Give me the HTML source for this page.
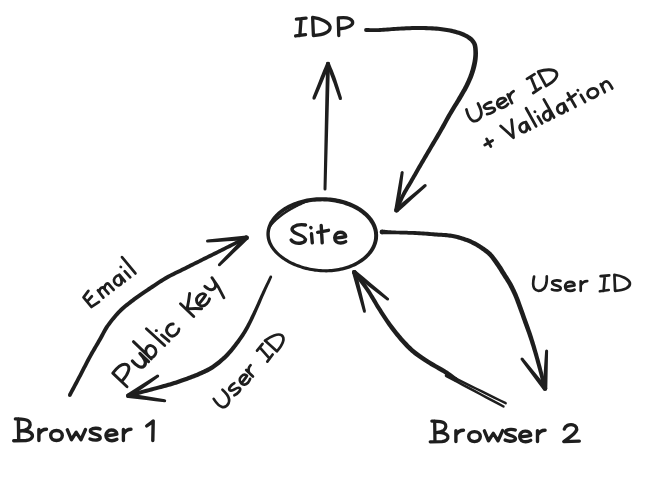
<!DOCTYPE html>
<html><head><meta charset="utf-8">
<style>
html,body{margin:0;padding:0;background:#fff;}
body{width:650px;height:501px;overflow:hidden;font-family:"Liberation Sans",sans-serif;}
svg{display:block;}
</style></head>
<body>
<svg width="650" height="501" viewBox="0 0 650 501">
<g fill="none" stroke="#1e1e1e" stroke-width="4.0" stroke-linecap="round" stroke-linejoin="round">

<g fill="#1e1e1e" stroke="none">
<path d="M365.99,31.90 L367.36,31.91 L368.68,31.93 L369.98,31.95 L371.28,31.98 L372.60,32.00 L373.96,32.02 L375.37,32.02 L376.85,32.01 L378.41,31.98 L380.08,31.93 L381.87,31.85 L383.75,31.73 L385.70,31.60 L387.72,31.44 L389.78,31.28 L391.87,31.12 L393.96,30.96 L396.04,30.81 L398.09,30.68 L400.10,30.57 L402.10,30.48 L404.09,30.39 L406.09,30.30 L408.08,30.22 L410.07,30.15 L412.06,30.09 L414.04,30.04 L416.02,30.02 L418.00,30.01 L419.98,30.02 L421.99,30.05 L424.02,30.09 L426.07,30.15 L428.12,30.23 L430.16,30.32 L432.17,30.42 L434.16,30.55 L436.09,30.70 L437.97,30.86 L439.77,31.05 L441.52,31.26 L443.23,31.49 L444.90,31.74 L446.53,32.01 L448.12,32.30 L449.66,32.61 L451.16,32.93 L452.62,33.28 L454.04,33.64 L455.42,34.02 L456.76,34.43 L458.07,34.87 L459.36,35.33 L460.60,35.80 L461.80,36.30 L462.94,36.80 L464.03,37.32 L465.05,37.83 L465.99,38.35 L466.86,38.87 L467.64,39.38 L468.35,39.88 L468.99,40.38 L469.56,40.88 L470.07,41.37 L470.53,41.88 L470.95,42.39 L471.34,42.93 L471.69,43.49 L472.02,44.06 L472.29,44.62 L472.51,45.19 L472.69,45.80 L472.85,46.44 L472.97,47.12 L473.07,47.85 L473.15,48.61 L473.21,49.41 L473.26,50.25 L473.30,51.12 L473.33,51.98 L473.34,52.86 L473.34,53.76 L473.31,54.68 L473.26,55.62 L473.18,56.57 L473.09,57.55 L472.97,58.55 L472.83,59.58 L472.66,60.62 L472.47,61.69 L472.25,62.80 L472.00,63.95 L471.73,65.11 L471.45,66.30 L471.15,67.49 L470.83,68.69 L470.49,69.89 L470.13,71.08 L469.76,72.25 L469.36,73.42 L468.95,74.58 L468.52,75.74 L468.07,76.90 L467.59,78.07 L467.10,79.24 L466.59,80.41 L466.06,81.59 L465.50,82.78 L464.93,83.98 L464.34,85.17 L463.75,86.33 L463.13,87.49 L462.49,88.66 L461.83,89.84 L461.15,91.05 L460.43,92.30 L459.68,93.59 L458.89,94.95 L458.07,96.36 L457.20,97.84 L456.28,99.38 L455.31,100.98 L454.31,102.63 L453.28,104.31 L452.24,106.02 L451.19,107.75 L450.14,109.48 L449.12,111.20 L448.12,112.90 L447.15,114.60 L446.19,116.31 L445.24,118.01 L444.30,119.72 L443.36,121.43 L442.43,123.14 L441.50,124.85 L440.56,126.55 L439.61,128.25 L438.65,129.94 L437.68,131.64 L436.70,133.34 L435.71,135.04 L434.71,136.74 L433.71,138.45 L432.71,140.15 L431.70,141.85 L430.70,143.56 L429.70,145.25 L428.71,146.95 L427.72,148.63 L426.74,150.31 L425.76,151.99 L424.78,153.66 L423.80,155.33 L422.83,157.00 L421.86,158.67 L420.88,160.34 L419.91,162.01 L418.95,163.68 L417.97,165.37 L417.00,167.07 L416.02,168.78 L415.04,170.49 L414.07,172.20 L413.10,173.89 L412.15,175.57 L411.21,177.22 L410.28,178.83 L409.38,180.41 L408.50,181.93 L407.63,183.42 L406.76,184.87 L405.91,186.31 L405.06,187.74 L404.23,189.16 L403.41,190.58 L402.61,192.01 L401.83,193.46 L401.07,194.93 L400.34,196.41 L399.66,197.89 L399.00,199.37 L398.37,200.84 L397.75,202.30 L397.15,203.76 L396.56,205.22 L395.97,206.67 L395.37,208.11 L394.75,209.55 L398.25,211.05 L398.87,209.59 L399.49,208.13 L400.09,206.68 L400.69,205.23 L401.30,203.78 L401.91,202.35 L402.53,200.92 L403.17,199.50 L403.83,198.08 L404.53,196.67 L405.26,195.28 L406.02,193.89 L406.80,192.51 L407.60,191.13 L408.43,189.74 L409.28,188.33 L410.14,186.90 L411.02,185.43 L411.91,183.93 L412.82,182.39 L413.73,180.81 L414.66,179.20 L415.61,177.55 L416.57,175.88 L417.55,174.19 L418.53,172.49 L419.51,170.79 L420.50,169.09 L421.48,167.39 L422.45,165.72 L423.43,164.06 L424.40,162.39 L425.38,160.73 L426.36,159.07 L427.35,157.41 L428.33,155.75 L429.32,154.08 L430.31,152.41 L431.30,150.73 L432.29,149.05 L433.29,147.37 L434.29,145.68 L435.30,143.99 L436.31,142.29 L437.33,140.59 L438.34,138.89 L439.35,137.18 L440.36,135.47 L441.36,133.76 L442.35,132.06 L443.32,130.35 L444.29,128.63 L445.25,126.92 L446.19,125.21 L447.14,123.51 L448.08,121.81 L449.02,120.11 L449.96,118.43 L450.92,116.76 L451.88,115.10 L452.87,113.43 L453.89,111.73 L454.93,110.03 L455.98,108.32 L457.03,106.62 L458.07,104.95 L459.10,103.30 L460.09,101.69 L461.04,100.13 L461.93,98.64 L462.77,97.23 L463.57,95.88 L464.34,94.58 L465.08,93.32 L465.79,92.10 L466.48,90.88 L467.15,89.68 L467.81,88.47 L468.45,87.26 L469.07,86.02 L469.68,84.78 L470.26,83.54 L470.83,82.32 L471.38,81.09 L471.91,79.87 L472.41,78.65 L472.90,77.43 L473.37,76.21 L473.82,74.98 L474.24,73.75 L474.65,72.50 L475.04,71.25 L475.42,69.98 L475.77,68.72 L476.10,67.45 L476.41,66.20 L476.68,64.96 L476.92,63.74 L477.15,62.55 L477.34,61.38 L477.51,60.24 L477.65,59.13 L477.76,58.03 L477.85,56.95 L477.92,55.88 L477.96,54.84 L477.98,53.82 L477.97,52.82 L477.95,51.84 L477.90,50.88 L477.84,49.97 L477.78,49.07 L477.70,48.17 L477.59,47.27 L477.46,46.38 L477.28,45.48 L477.05,44.58 L476.77,43.69 L476.41,42.80 L475.98,41.94 L475.52,41.14 L475.02,40.38 L474.47,39.65 L473.88,38.94 L473.23,38.25 L472.53,37.59 L471.77,36.95 L470.96,36.33 L470.08,35.72 L469.14,35.13 L468.13,34.55 L467.05,33.97 L465.91,33.41 L464.71,32.86 L463.45,32.33 L462.15,31.81 L460.81,31.32 L459.43,30.84 L458.02,30.40 L456.58,29.98 L455.12,29.58 L453.62,29.20 L452.08,28.85 L450.50,28.51 L448.88,28.20 L447.23,27.91 L445.54,27.64 L443.81,27.39 L442.04,27.16 L440.23,26.95 L438.36,26.76 L436.42,26.60 L434.43,26.46 L432.40,26.33 L430.34,26.23 L428.27,26.15 L426.19,26.09 L424.11,26.04 L422.05,26.00 L420.02,25.98 L418.00,25.98 L415.98,25.99 L413.96,26.03 L411.94,26.08 L409.93,26.15 L407.92,26.23 L405.91,26.32 L403.91,26.42 L401.90,26.52 L399.90,26.63 L397.85,26.75 L395.77,26.89 L393.66,27.05 L391.56,27.22 L389.47,27.39 L387.42,27.56 L385.41,27.72 L383.49,27.86 L381.65,27.98 L379.92,28.07 L378.30,28.13 L376.79,28.17 L375.35,28.18 L373.98,28.18 L372.65,28.17 L371.34,28.16 L370.04,28.14 L368.73,28.12 L367.39,28.10 L366.01,28.10Z M364.10,30.00 a1.90,1.90 0 1,0 3.80,0 a1.90,1.90 0 1,0 -3.80,0 M394.60,210.30 a1.90,1.90 0 1,0 3.80,0 a1.90,1.90 0 1,0 -3.80,0"/>
<path d="M398.77,210.64 L400.00,201.14 L401.23,191.63 L402.46,182.13 L403.68,172.62 L400.72,172.18 L399.09,181.62 L397.47,191.07 L395.85,200.51 L394.23,209.96Z M394.20,210.30 a2.30,2.30 0 1,0 4.60,0 a2.30,2.30 0 1,0 -4.60,0 M400.70,172.40 a1.50,1.50 0 1,0 3.00,0 a1.50,1.50 0 1,0 -3.00,0"/><path d="M398.00,212.04 L405.05,205.69 L412.09,199.34 L419.14,192.99 L426.18,186.63 L424.22,184.37 L416.91,190.41 L409.61,196.46 L402.30,202.51 L395.00,208.56Z M394.20,210.30 a2.30,2.30 0 1,0 4.60,0 a2.30,2.30 0 1,0 -4.60,0 M423.70,185.50 a1.50,1.50 0 1,0 3.00,0 a1.50,1.50 0 1,0 -3.00,0"/>
<path d="M326.50,189.04 L326.85,176.54 L327.20,164.04 L327.55,151.54 L327.90,139.04 L328.25,126.54 L328.60,114.04 L328.94,101.54 L329.27,89.04 L329.61,76.55 L329.95,64.05 L326.05,63.95 L325.79,76.45 L325.53,88.96 L325.26,101.46 L325.00,113.96 L324.75,126.46 L324.50,138.96 L324.25,151.46 L324.00,163.96 L323.75,176.46 L323.50,188.96Z M323.50,189.00 a1.50,1.50 0 1,0 3.00,0 a1.50,1.50 0 1,0 -3.00,0 M326.05,64.00 a1.95,1.95 0 1,0 3.90,0 a1.95,1.95 0 1,0 -3.90,0"/>
<path d="M326.33,62.83 L325.62,64.52 L324.91,66.20 L324.21,67.88 L323.51,69.56 L322.80,71.24 L322.10,72.92 L321.43,74.63 L320.77,76.34 L320.11,78.06 L319.44,79.78 L318.76,81.52 L318.07,83.27 L317.38,85.02 L316.68,86.78 L315.98,88.54 L315.28,90.31 L314.58,92.07 L313.87,93.84 L313.17,95.61 L312.47,97.37 L315.53,98.63 L316.27,96.89 L317.02,95.14 L317.77,93.39 L318.52,91.64 L319.27,89.90 L320.02,88.15 L320.76,86.41 L321.50,84.67 L322.24,82.94 L322.96,81.22 L323.68,79.50 L324.40,77.80 L325.11,76.10 L325.80,74.40 L326.45,72.70 L327.09,70.99 L327.74,69.29 L328.38,67.58 L329.02,65.88 L329.67,64.17Z M326.20,63.50 a1.80,1.80 0 1,0 3.60,0 a1.80,1.80 0 1,0 -3.60,0 M312.35,98.00 a1.65,1.65 0 1,0 3.30,0 a1.65,1.65 0 1,0 -3.30,0"/>
<path d="M326.32,64.15 L326.94,65.86 L327.57,67.56 L328.20,69.26 L328.83,70.96 L329.46,72.66 L330.08,74.35 L330.74,76.04 L331.41,77.73 L332.06,79.42 L332.71,81.14 L333.34,82.87 L333.96,84.62 L334.58,86.38 L335.19,88.16 L335.80,89.94 L336.40,91.73 L337.01,93.53 L337.61,95.33 L338.22,97.12 L338.83,98.91 L341.97,97.89 L341.41,96.09 L340.85,94.28 L340.29,92.47 L339.74,90.66 L339.18,88.85 L338.62,87.03 L338.05,85.23 L337.47,83.43 L336.89,81.64 L336.29,79.86 L335.69,78.10 L335.07,76.36 L334.44,74.63 L333.81,72.92 L333.12,71.23 L332.43,69.55 L331.74,67.88 L331.05,66.21 L330.36,64.53 L329.68,62.85Z M326.20,63.50 a1.80,1.80 0 1,0 3.60,0 a1.80,1.80 0 1,0 -3.60,0 M338.75,98.40 a1.65,1.65 0 1,0 3.30,0 a1.65,1.65 0 1,0 -3.30,0"/>
<path d="M381.93,234.40 L383.20,234.36 L384.42,234.33 L385.61,234.30 L386.80,234.27 L388.00,234.24 L389.24,234.20 L390.53,234.17 L391.90,234.13 L393.36,234.16 L394.95,234.21 L396.67,234.27 L398.51,234.32 L400.44,234.38 L402.45,234.43 L404.52,234.49 L406.61,234.56 L408.72,234.63 L410.82,234.71 L412.89,234.80 L414.91,234.90 L416.91,235.02 L418.96,235.15 L421.03,235.29 L423.10,235.44 L425.17,235.60 L427.21,235.77 L429.22,235.93 L431.17,236.09 L433.05,236.24 L434.86,236.38 L436.58,236.51 L438.24,236.63 L439.84,236.73 L441.38,236.83 L442.87,236.93 L444.30,237.04 L445.70,237.16 L447.06,237.29 L448.39,237.45 L449.70,237.64 L450.99,237.84 L452.22,238.06 L453.41,238.29 L454.57,238.54 L455.71,238.80 L456.83,239.08 L457.94,239.38 L459.07,239.71 L460.20,240.05 L461.36,240.42 L462.54,240.81 L463.74,241.22 L464.94,241.66 L466.15,242.12 L467.35,242.60 L468.54,243.09 L469.71,243.60 L470.85,244.11 L471.96,244.63 L473.02,245.16 L474.04,245.69 L475.03,246.24 L476.01,246.82 L476.96,247.40 L477.90,248.00 L478.82,248.60 L479.72,249.21 L480.59,249.82 L481.45,250.43 L482.29,251.04 L483.10,251.62 L483.86,252.18 L484.58,252.71 L485.26,253.23 L485.92,253.75 L486.55,254.28 L487.18,254.84 L487.81,255.43 L488.44,256.07 L489.10,256.76 L489.77,257.53 L490.46,258.36 L491.16,259.25 L491.87,260.19 L492.58,261.16 L493.29,262.16 L494.00,263.17 L494.69,264.18 L495.38,265.18 L496.04,266.15 L496.67,267.08 L497.27,268.01 L497.86,268.94 L498.45,269.87 L499.04,270.81 L499.62,271.75 L500.20,272.69 L500.79,273.64 L501.38,274.60 L501.98,275.57 L502.60,276.53 L503.21,277.48 L503.83,278.42 L504.44,279.34 L505.04,280.27 L505.64,281.20 L506.23,282.13 L506.81,283.08 L507.38,284.05 L507.94,285.04 L508.50,286.07 L509.06,287.13 L509.63,288.21 L510.18,289.32 L510.74,290.44 L511.28,291.57 L511.82,292.70 L512.35,293.84 L512.86,294.99 L513.36,296.12 L513.84,297.24 L514.30,298.36 L514.75,299.48 L515.18,300.60 L515.61,301.74 L516.04,302.89 L516.48,304.07 L516.92,305.28 L517.37,306.52 L517.84,307.79 L518.32,309.10 L518.81,310.44 L519.31,311.81 L519.81,313.21 L520.32,314.62 L520.83,316.05 L521.34,317.49 L521.85,318.92 L522.36,320.35 L522.87,321.76 L523.37,323.16 L523.88,324.54 L524.38,325.91 L524.89,327.28 L525.39,328.64 L525.90,330.01 L526.40,331.40 L526.91,332.80 L527.41,334.23 L527.91,335.70 L528.42,337.19 L528.92,338.71 L529.43,340.25 L529.94,341.81 L530.44,343.39 L530.95,344.99 L531.46,346.61 L531.96,348.25 L532.47,349.91 L532.98,351.59 L533.48,353.30 L533.99,355.02 L534.50,356.77 L535.01,358.54 L535.51,360.33 L536.02,362.14 L536.53,363.96 L537.04,365.80 L537.55,367.65 L538.06,369.52 L538.57,371.40 L539.08,373.30 L539.59,375.23 L540.10,377.18 L540.61,379.14 L541.12,381.11 L541.63,383.08 L542.14,385.05 L542.65,387.02 L543.16,388.97 L546.84,388.03 L546.35,386.07 L545.86,384.10 L545.37,382.13 L544.88,380.15 L544.39,378.17 L543.90,376.21 L543.41,374.25 L542.92,372.30 L542.43,370.38 L541.94,368.48 L541.45,366.61 L540.96,364.74 L540.47,362.89 L539.98,361.05 L539.49,359.23 L538.99,357.43 L538.50,355.64 L538.01,353.87 L537.52,352.13 L537.02,350.41 L536.53,348.71 L536.04,347.03 L535.54,345.37 L535.05,343.73 L534.56,342.11 L534.06,340.51 L533.57,338.93 L533.08,337.37 L532.58,335.83 L532.09,334.30 L531.59,332.81 L531.09,331.34 L530.60,329.91 L530.10,328.50 L529.61,327.11 L529.11,325.73 L528.62,324.36 L528.12,323.00 L527.63,321.62 L527.13,320.24 L526.63,318.83 L526.13,317.41 L525.63,315.97 L525.12,314.53 L524.62,313.10 L524.12,311.68 L523.62,310.27 L523.12,308.88 L522.64,307.53 L522.16,306.21 L521.70,304.94 L521.25,303.70 L520.81,302.49 L520.38,301.30 L519.95,300.12 L519.51,298.96 L519.07,297.79 L518.61,296.63 L518.13,295.46 L517.64,294.28 L517.12,293.10 L516.60,291.92 L516.06,290.74 L515.51,289.56 L514.95,288.39 L514.38,287.23 L513.81,286.08 L513.23,284.96 L512.65,283.85 L512.06,282.76 L511.46,281.69 L510.86,280.66 L510.25,279.65 L509.64,278.67 L509.02,277.70 L508.41,276.76 L507.80,275.82 L507.20,274.89 L506.61,273.97 L506.02,273.03 L505.43,272.09 L504.85,271.15 L504.28,270.20 L503.70,269.25 L503.11,268.29 L502.52,267.33 L501.91,266.36 L501.28,265.40 L500.63,264.42 L499.96,263.45 L499.28,262.48 L498.58,261.48 L497.86,260.46 L497.12,259.43 L496.37,258.40 L495.61,257.38 L494.83,256.38 L494.06,255.42 L493.28,254.50 L492.50,253.64 L491.74,252.84 L490.99,252.11 L490.25,251.43 L489.52,250.80 L488.78,250.20 L488.04,249.62 L487.29,249.06 L486.53,248.51 L485.74,247.95 L484.91,247.36 L484.05,246.76 L483.15,246.14 L482.23,245.51 L481.28,244.88 L480.30,244.25 L479.29,243.63 L478.26,243.01 L477.19,242.40 L476.10,241.81 L474.98,241.24 L473.84,240.69 L472.65,240.15 L471.44,239.62 L470.20,239.10 L468.95,238.60 L467.68,238.11 L466.41,237.65 L465.14,237.20 L463.88,236.78 L462.64,236.38 L461.43,236.01 L460.23,235.67 L459.04,235.34 L457.86,235.03 L456.67,234.75 L455.46,234.48 L454.23,234.23 L452.96,233.99 L451.66,233.77 L450.30,233.56 L448.90,233.38 L447.48,233.23 L446.06,233.10 L444.61,232.99 L443.13,232.89 L441.63,232.80 L440.08,232.72 L438.49,232.63 L436.85,232.53 L435.14,232.42 L433.35,232.29 L431.47,232.15 L429.52,232.01 L427.51,231.87 L425.46,231.72 L423.38,231.58 L421.29,231.44 L419.20,231.32 L417.13,231.20 L415.09,231.10 L413.05,231.02 L410.96,230.94 L408.84,230.88 L406.72,230.83 L404.61,230.78 L402.54,230.74 L400.53,230.70 L398.60,230.67 L396.76,230.63 L395.05,230.59 L393.47,230.55 L392.01,230.48 L390.64,230.36 L389.36,230.25 L388.13,230.14 L386.93,230.03 L385.75,229.93 L384.56,229.82 L383.34,229.71 L382.07,229.60Z M379.60,232.00 a2.40,2.40 0 1,0 4.80,0 a2.40,2.40 0 1,0 -4.80,0 M543.10,388.50 a1.90,1.90 0 1,0 3.80,0 a1.90,1.90 0 1,0 -3.80,0"/>
<path d="M546.81,387.09 L540.91,379.83 L535.00,372.58 L529.09,365.33 L523.18,358.08 L520.82,359.92 L526.41,367.42 L532.00,374.92 L537.59,382.42 L543.19,389.91Z M542.70,388.50 a2.30,2.30 0 1,0 4.60,0 a2.30,2.30 0 1,0 -4.60,0 M520.50,359.00 a1.50,1.50 0 1,0 3.00,0 a1.50,1.50 0 1,0 -3.00,0"/><path d="M547.30,388.60 L547.50,379.21 L547.70,369.83 L547.90,360.45 L548.10,351.06 L545.10,350.94 L544.50,360.30 L543.90,369.67 L543.30,379.04 L542.70,388.40Z M542.70,388.50 a2.30,2.30 0 1,0 4.60,0 a2.30,2.30 0 1,0 -4.60,0 M545.10,351.00 a1.50,1.50 0 1,0 3.00,0 a1.50,1.50 0 1,0 -3.00,0"/>
<path d="M457.29,377.82 L456.28,377.09 L455.33,376.38 L454.39,375.67 L453.46,374.96 L452.50,374.24 L451.50,373.50 L450.43,372.74 L449.29,371.94 L448.05,371.11 L446.69,370.22 L445.18,369.29 L443.54,368.31 L441.80,367.30 L440.00,366.27 L438.15,365.22 L436.29,364.16 L434.44,363.09 L432.64,362.04 L430.92,361.01 L429.30,359.99 L427.75,358.99 L426.21,358.00 L424.72,357.02 L423.25,356.04 L421.83,355.07 L420.43,354.09 L419.07,353.10 L417.74,352.10 L416.44,351.09 L415.16,350.05 L413.93,348.99 L412.74,347.93 L411.59,346.85 L410.47,345.77 L409.36,344.66 L408.27,343.53 L407.17,342.37 L406.06,341.18 L404.94,339.96 L403.80,338.69 L402.64,337.40 L401.49,336.08 L400.34,334.74 L399.19,333.36 L398.03,331.96 L396.88,330.53 L395.73,329.07 L394.58,327.58 L393.42,326.06 L392.27,324.51 L391.11,322.93 L389.96,321.30 L388.80,319.63 L387.64,317.93 L386.48,316.20 L385.32,314.44 L384.16,312.66 L382.99,310.88 L381.83,309.08 L380.67,307.28 L379.53,305.47 L378.40,303.64 L377.27,301.77 L376.14,299.87 L375.01,297.96 L373.86,296.04 L372.69,294.13 L371.51,292.22 L370.30,290.34 L369.05,288.48 L367.78,286.66 L366.48,284.87 L365.16,283.10 L363.83,281.35 L362.49,279.62 L361.15,277.90 L359.80,276.19 L358.46,274.48 L357.13,272.77 L355.81,271.05 L352.79,273.35 L354.10,275.09 L355.43,276.83 L356.76,278.56 L358.09,280.28 L359.41,282.00 L360.72,283.73 L362.01,285.45 L363.28,287.19 L364.53,288.95 L365.75,290.72 L366.93,292.52 L368.09,294.36 L369.23,296.23 L370.36,298.13 L371.48,300.04 L372.60,301.96 L373.72,303.87 L374.84,305.78 L375.98,307.67 L377.13,309.52 L378.28,311.34 L379.44,313.16 L380.59,314.97 L381.75,316.77 L382.91,318.55 L384.07,320.32 L385.23,322.06 L386.40,323.77 L387.56,325.45 L388.73,327.09 L389.90,328.69 L391.06,330.25 L392.23,331.78 L393.40,333.29 L394.57,334.76 L395.73,336.21 L396.90,337.62 L398.07,339.01 L399.24,340.38 L400.40,341.71 L401.56,343.00 L402.69,344.27 L403.82,345.50 L404.94,346.70 L406.09,347.88 L407.25,349.04 L408.44,350.18 L409.66,351.31 L410.92,352.44 L412.24,353.55 L413.59,354.65 L414.97,355.73 L416.37,356.77 L417.80,357.80 L419.25,358.81 L420.72,359.81 L422.23,360.80 L423.75,361.79 L425.31,362.79 L426.90,363.81 L428.58,364.85 L430.35,365.91 L432.19,366.98 L434.07,368.05 L435.94,369.11 L437.79,370.15 L439.58,371.17 L441.29,372.15 L442.87,373.09 L444.31,373.98 L445.61,374.81 L446.79,375.60 L447.88,376.36 L448.90,377.08 L449.86,377.79 L450.81,378.50 L451.74,379.20 L452.69,379.91 L453.68,380.64 L454.71,381.38Z M453.80,379.60 a2.20,2.20 0 1,0 4.40,0 a2.20,2.20 0 1,0 -4.40,0 M352.40,272.20 a1.90,1.90 0 1,0 3.80,0 a1.90,1.90 0 1,0 -3.80,0"/>
<path d="M445.43,374.97 L451.40,377.90 L457.37,380.83 L463.35,383.76 L469.32,386.69 L475.30,389.62 L481.27,392.55 L487.25,395.48 L493.22,398.41 L499.20,401.35 L505.17,404.28 L506.23,402.12 L500.26,399.17 L494.30,396.23 L488.33,393.28 L482.37,390.33 L476.40,387.38 L470.44,384.43 L464.47,381.48 L458.51,378.53 L452.54,375.58 L446.57,372.63Z M444.70,373.80 a1.30,1.30 0 1,0 2.60,0 a1.30,1.30 0 1,0 -2.60,0 M504.50,403.20 a1.20,1.20 0 1,0 2.40,0 a1.20,1.20 0 1,0 -2.40,0"/>
<path d="M445.39,376.95 L451.14,380.01 L456.90,383.07 L462.65,386.13 L468.41,389.19 L474.16,392.25 L479.92,395.31 L485.67,398.38 L491.43,401.44 L497.18,404.50 L502.93,407.56 L504.07,405.44 L498.32,402.36 L492.57,399.28 L486.83,396.20 L481.08,393.13 L475.34,390.05 L469.59,386.97 L463.85,383.89 L458.10,380.81 L452.36,377.73 L446.61,374.65Z M444.70,375.80 a1.30,1.30 0 1,0 2.60,0 a1.30,1.30 0 1,0 -2.60,0 M502.30,406.50 a1.20,1.20 0 1,0 2.40,0 a1.20,1.20 0 1,0 -2.40,0"/>
<path d="M352.07,272.78 L354.82,282.51 L357.56,292.23 L360.31,301.95 L363.05,311.68 L365.95,310.92 L363.59,301.10 L361.24,291.27 L358.88,281.44 L356.53,271.62Z M352.00,272.20 a2.30,2.30 0 1,0 4.60,0 a2.30,2.30 0 1,0 -4.60,0 M363.00,311.30 a1.50,1.50 0 1,0 3.00,0 a1.50,1.50 0 1,0 -3.00,0"/><path d="M352.85,273.99 L361.31,280.56 L369.76,287.13 L378.21,293.70 L386.66,300.27 L388.54,297.93 L380.34,291.05 L372.14,284.17 L363.94,277.29 L355.75,270.41Z M352.00,272.20 a2.30,2.30 0 1,0 4.60,0 a2.30,2.30 0 1,0 -4.60,0 M386.10,299.10 a1.50,1.50 0 1,0 3.00,0 a1.50,1.50 0 1,0 -3.00,0"/>
<path d="M71.48,395.89 L72.50,393.97 L73.52,392.05 L74.55,390.14 L75.57,388.22 L76.60,386.30 L77.62,384.38 L78.64,382.46 L79.66,380.54 L80.68,378.61 L81.70,376.69 L82.71,374.75 L83.73,372.80 L84.74,370.84 L85.75,368.87 L86.75,366.92 L87.75,364.98 L88.75,363.06 L89.74,361.18 L90.72,359.33 L91.70,357.53 L92.67,355.77 L93.65,354.04 L94.63,352.33 L95.61,350.65 L96.58,348.99 L97.55,347.35 L98.51,345.73 L99.45,344.13 L100.38,342.54 L101.29,340.97 L102.17,339.41 L103.00,337.89 L103.80,336.41 L104.56,334.96 L105.32,333.54 L106.09,332.15 L106.87,330.76 L107.70,329.39 L108.57,328.01 L109.51,326.62 L110.53,325.20 L111.60,323.75 L112.71,322.30 L113.86,320.84 L115.04,319.40 L116.25,317.96 L117.48,316.54 L118.74,315.16 L120.01,313.81 L121.30,312.50 L122.60,311.24 L123.95,310.01 L125.33,308.80 L126.74,307.61 L128.18,306.44 L129.63,305.28 L131.10,304.14 L132.57,303.01 L134.04,301.90 L135.50,300.79 L136.93,299.72 L138.34,298.69 L139.74,297.69 L141.15,296.70 L142.56,295.72 L143.99,294.74 L145.46,293.76 L146.95,292.75 L148.50,291.72 L150.10,290.65 L151.77,289.54 L153.49,288.38 L155.26,287.20 L157.07,286.00 L158.89,284.80 L160.72,283.60 L162.55,282.43 L164.36,281.30 L166.14,280.22 L167.88,279.20 L169.57,278.24 L171.25,277.34 L172.93,276.47 L174.59,275.63 L176.26,274.81 L177.92,274.01 L179.59,273.21 L181.27,272.40 L182.96,271.58 L184.66,270.73 L186.36,269.88 L188.06,269.03 L189.76,268.17 L191.46,267.32 L193.16,266.46 L194.86,265.61 L196.56,264.76 L198.26,263.91 L199.96,263.06 L201.65,262.21 L203.34,261.37 L205.04,260.52 L206.72,259.68 L208.41,258.84 L210.10,258.00 L211.79,257.16 L213.48,256.32 L215.17,255.48 L216.85,254.64 L218.55,253.79 L220.26,252.93 L222.01,252.05 L223.77,251.16 L225.55,250.26 L227.31,249.37 L229.04,248.49 L230.74,247.63 L232.38,246.81 L233.95,246.02 L235.43,245.27 L236.82,244.57 L238.13,243.92 L239.36,243.31 L240.55,242.72 L241.69,242.15 L242.80,241.60 L243.91,241.05 L245.02,240.50 L246.15,239.94 L247.32,239.36 L245.68,236.04 L244.51,236.62 L243.38,237.18 L242.27,237.73 L241.16,238.27 L240.04,238.82 L238.89,239.39 L237.71,239.97 L236.47,240.59 L235.16,241.24 L233.77,241.93 L232.27,242.68 L230.70,243.46 L229.06,244.29 L227.36,245.14 L225.62,246.02 L223.85,246.90 L222.08,247.79 L220.31,248.68 L218.57,249.56 L216.85,250.41 L215.17,251.25 L213.48,252.09 L211.79,252.93 L210.10,253.76 L208.41,254.60 L206.72,255.43 L205.03,256.27 L203.34,257.11 L201.64,257.95 L199.95,258.79 L198.25,259.63 L196.55,260.48 L194.85,261.33 L193.14,262.17 L191.44,263.02 L189.74,263.87 L188.03,264.72 L186.33,265.57 L184.63,266.42 L182.94,267.27 L181.26,268.10 L179.59,268.90 L177.91,269.70 L176.24,270.50 L174.56,271.31 L172.86,272.14 L171.15,272.99 L169.43,273.88 L167.69,274.81 L165.92,275.80 L164.13,276.85 L162.30,277.96 L160.45,279.11 L158.59,280.29 L156.73,281.49 L154.89,282.70 L153.07,283.90 L151.29,285.09 L149.56,286.24 L147.90,287.35 L146.30,288.41 L144.75,289.44 L143.24,290.45 L141.76,291.44 L140.30,292.43 L138.86,293.42 L137.43,294.43 L136.00,295.45 L134.55,296.51 L133.10,297.61 L131.63,298.72 L130.15,299.85 L128.67,300.99 L127.17,302.15 L125.68,303.34 L124.20,304.55 L122.74,305.79 L121.30,307.06 L119.88,308.36 L118.50,309.70 L117.16,311.07 L115.83,312.48 L114.53,313.92 L113.25,315.39 L112.00,316.88 L110.78,318.38 L109.60,319.89 L108.45,321.39 L107.35,322.89 L106.29,324.38 L105.28,325.86 L104.35,327.33 L103.48,328.79 L102.66,330.24 L101.88,331.68 L101.11,333.13 L100.34,334.57 L99.56,336.04 L98.76,337.52 L97.91,339.03 L97.01,340.58 L96.09,342.16 L95.15,343.76 L94.20,345.38 L93.23,347.02 L92.25,348.69 L91.27,350.39 L90.28,352.12 L89.29,353.88 L88.30,355.67 L87.31,357.50 L86.32,359.37 L85.32,361.28 L84.32,363.21 L83.32,365.16 L82.32,367.12 L81.32,369.08 L80.31,371.04 L79.31,372.98 L78.30,374.91 L77.29,376.83 L76.28,378.74 L75.27,380.66 L74.25,382.58 L73.23,384.50 L72.21,386.42 L71.18,388.34 L70.16,390.27 L69.14,392.19 L68.12,394.11Z M67.90,395.00 a1.90,1.90 0 1,0 3.80,0 a1.90,1.90 0 1,0 -3.80,0 M244.65,237.70 a1.85,1.85 0 1,0 3.70,0 a1.85,1.85 0 1,0 -3.70,0"/>
<path d="M246.30,235.41 L236.57,236.46 L226.83,237.51 L217.10,238.56 L207.37,239.61 L207.63,242.59 L217.40,241.94 L227.17,241.29 L236.93,240.64 L246.70,239.99Z M244.20,237.70 a2.30,2.30 0 1,0 4.60,0 a2.30,2.30 0 1,0 -4.60,0 M206.00,241.10 a1.50,1.50 0 1,0 3.00,0 a1.50,1.50 0 1,0 -3.00,0"/><path d="M244.87,236.07 L238.24,242.99 L231.61,249.91 L224.97,256.82 L218.34,263.74 L220.46,265.86 L227.38,259.23 L234.29,252.59 L241.21,245.96 L248.13,239.33Z M244.20,237.70 a2.30,2.30 0 1,0 4.60,0 a2.30,2.30 0 1,0 -4.60,0 M217.90,264.80 a1.50,1.50 0 1,0 3.00,0 a1.50,1.50 0 1,0 -3.00,0"/>
<path d="M269.54,276.40 L268.82,277.87 L268.12,279.31 L267.42,280.72 L266.73,282.14 L266.03,283.56 L265.32,285.02 L264.60,286.51 L263.85,288.05 L263.09,289.66 L262.29,291.36 L261.46,293.15 L260.59,295.05 L259.71,297.01 L258.81,299.03 L257.89,301.08 L256.97,303.14 L256.04,305.19 L255.12,307.21 L254.21,309.17 L253.32,311.06 L252.43,312.91 L251.54,314.75 L250.66,316.58 L249.78,318.38 L248.90,320.15 L248.02,321.89 L247.15,323.59 L246.28,325.24 L245.42,326.83 L244.55,328.36 L243.69,329.82 L242.84,331.22 L242.01,332.55 L241.17,333.83 L240.33,335.08 L239.48,336.31 L238.60,337.54 L237.71,338.77 L236.78,340.02 L235.81,341.31 L234.80,342.62 L233.78,343.95 L232.74,345.29 L231.67,346.62 L230.59,347.95 L229.49,349.26 L228.38,350.55 L227.24,351.81 L226.09,353.03 L224.92,354.22 L223.71,355.39 L222.46,356.56 L221.18,357.71 L219.88,358.84 L218.56,359.95 L217.24,361.02 L215.90,362.06 L214.58,363.05 L213.26,363.99 L211.97,364.88 L210.71,365.71 L209.48,366.47 L208.25,367.18 L207.03,367.86 L205.79,368.50 L204.53,369.12 L203.24,369.73 L201.92,370.35 L200.54,370.97 L199.12,371.61 L197.65,372.26 L196.12,372.91 L194.54,373.56 L192.92,374.20 L191.28,374.83 L189.64,375.45 L188.00,376.06 L186.38,376.66 L184.80,377.24 L183.28,377.79 L181.82,378.31 L180.41,378.81 L179.04,379.29 L177.70,379.75 L176.37,380.19 L175.04,380.63 L173.69,381.06 L172.30,381.49 L170.88,381.93 L169.40,382.38 L167.90,382.82 L166.43,383.25 L164.95,383.67 L163.45,384.09 L161.91,384.51 L160.31,384.95 L158.63,385.40 L156.87,385.88 L154.98,386.40 L152.97,386.96 L150.81,387.56 L148.51,388.20 L146.09,388.87 L143.57,389.57 L140.98,390.29 L138.35,391.02 L135.70,391.75 L133.07,392.48 L130.46,393.21 L127.92,393.91 L128.88,397.49 L131.44,396.81 L134.05,396.12 L136.70,395.42 L139.35,394.72 L141.99,394.02 L144.59,393.34 L147.12,392.67 L149.55,392.03 L151.86,391.42 L154.03,390.84 L156.04,390.32 L157.92,389.83 L159.69,389.37 L161.37,388.93 L162.98,388.51 L164.54,388.11 L166.06,387.70 L167.57,387.29 L169.08,386.86 L170.60,386.42 L172.10,385.97 L173.55,385.53 L174.96,385.10 L176.33,384.66 L177.69,384.22 L179.05,383.77 L180.42,383.31 L181.81,382.84 L183.24,382.34 L184.72,381.81 L186.26,381.26 L187.85,380.69 L189.48,380.09 L191.14,379.48 L192.82,378.86 L194.49,378.22 L196.15,377.57 L197.77,376.91 L199.36,376.25 L200.88,375.59 L202.33,374.94 L203.72,374.31 L205.09,373.69 L206.43,373.05 L207.76,372.40 L209.08,371.72 L210.40,371.00 L211.73,370.24 L213.07,369.41 L214.43,368.52 L215.80,367.56 L217.17,366.54 L218.55,365.48 L219.94,364.38 L221.31,363.24 L222.67,362.07 L224.02,360.87 L225.34,359.66 L226.63,358.42 L227.88,357.18 L229.11,355.90 L230.31,354.59 L231.49,353.26 L232.63,351.90 L233.76,350.53 L234.85,349.15 L235.93,347.77 L236.97,346.40 L238.00,345.04 L238.99,343.69 L239.96,342.38 L240.90,341.09 L241.81,339.81 L242.69,338.54 L243.56,337.26 L244.42,335.95 L245.27,334.61 L246.12,333.21 L246.98,331.76 L247.85,330.24 L248.73,328.64 L249.61,326.99 L250.48,325.29 L251.34,323.55 L252.20,321.77 L253.06,319.96 L253.91,318.13 L254.77,316.28 L255.63,314.41 L256.48,312.54 L257.36,310.61 L258.24,308.61 L259.13,306.56 L260.02,304.49 L260.91,302.40 L261.79,300.34 L262.65,298.30 L263.50,296.33 L264.32,294.44 L265.11,292.64 L265.87,290.95 L266.60,289.34 L267.31,287.79 L268.01,286.29 L268.68,284.84 L269.36,283.40 L270.03,281.97 L270.70,280.54 L271.37,279.09 L272.06,277.60Z M269.40,277.00 a1.40,1.40 0 1,0 2.80,0 a1.40,1.40 0 1,0 -2.80,0 M126.55,395.70 a1.85,1.85 0 1,0 3.70,0 a1.85,1.85 0 1,0 -3.70,0"/>
<path d="M129.68,397.61 L136.89,392.55 L144.11,387.48 L151.32,382.41 L158.53,377.35 L156.87,374.85 L149.43,379.59 L141.99,384.32 L134.56,389.05 L127.12,393.79Z M126.10,395.70 a2.30,2.30 0 1,0 4.60,0 a2.30,2.30 0 1,0 -4.60,0 M156.20,376.10 a1.50,1.50 0 1,0 3.00,0 a1.50,1.50 0 1,0 -3.00,0"/><path d="M128.09,397.98 L137.19,399.03 L146.29,400.08 L155.39,401.13 L164.50,402.19 L164.90,399.21 L155.86,397.77 L146.81,396.32 L137.76,394.87 L128.71,393.42Z M126.10,395.70 a2.30,2.30 0 1,0 4.60,0 a2.30,2.30 0 1,0 -4.60,0 M163.20,400.70 a1.50,1.50 0 1,0 3.00,0 a1.50,1.50 0 1,0 -3.00,0"/>
</g>
<g fill="#1e1e1e" stroke="none"><path d="M374.17,235.22 L374.11,236.49 L374.06,237.71 L373.96,238.85 L373.77,240.00 L373.52,241.16 L373.21,242.32 L372.83,243.48 L372.40,244.63 L371.90,245.77 L371.34,246.91 L370.72,248.04 L370.04,249.15 L369.30,250.25 L368.50,251.33 L367.65,252.40 L366.73,253.45 L365.76,254.47 L364.73,255.48 L363.65,256.46 L362.52,257.41 L361.33,258.34 L360.10,259.23 L358.81,260.10 L357.48,260.93 L356.11,261.73 L354.69,262.49 L353.23,263.22 L351.74,263.90 L350.20,264.55 L348.64,265.16 L347.04,265.73 L345.41,266.26 L343.75,266.74 L342.07,267.18 L340.36,267.58 L338.64,267.94 L336.89,268.25 L335.13,268.51 L333.36,268.73 L331.57,268.91 L329.77,269.04 L327.97,269.13 L326.16,269.17 L324.35,269.17 L322.54,269.13 L320.74,269.04 L318.93,268.91 L317.13,268.74 L315.34,268.52 L313.56,268.27 L311.79,267.98 L310.03,267.64 L308.29,267.27 L306.57,266.86 L304.87,266.42 L303.19,265.94 L301.53,265.42 L299.90,264.87 L298.29,264.29 L296.71,263.67 L295.16,263.03 L293.64,262.35 L292.16,261.65 L290.71,260.91 L289.30,260.15 L287.92,259.37 L286.59,258.56 L285.30,257.72 L284.05,256.86 L282.84,255.98 L281.68,255.08 L280.56,254.16 L279.50,253.22 L278.48,252.26 L277.52,251.29 L276.60,250.29 L275.74,249.29 L274.94,248.27 L274.19,247.24 L273.49,246.19 L272.86,245.14 L272.28,244.08 L271.76,243.00 L271.30,241.92 L270.90,240.84 L270.56,239.75 L270.28,238.65 L270.07,237.55 L269.91,236.44 L269.82,235.34 L269.78,234.23 L269.81,233.11 L269.90,232.00 L270.06,230.89 L270.28,229.77 L270.56,228.66 L270.91,227.55 L271.32,226.44 L271.79,225.34 L272.33,224.24 L272.94,223.15 L273.60,222.07 L274.33,221.00 L275.13,219.94 L275.99,218.89 L276.90,217.86 L277.89,216.85 L278.92,215.85 L280.02,214.88 L281.18,213.93 L282.38,213.00 L283.65,212.10 L284.96,211.23 L286.32,210.38 L287.74,209.57 L289.19,208.78 L290.69,208.04 L292.23,207.32 L293.82,206.64 L295.43,206.00 L297.08,205.40 L298.77,204.84 L300.48,204.32 L302.21,203.83 L303.98,203.39 L305.76,203.00 L307.56,202.64 L309.38,202.33 L311.21,202.06 L313.05,201.84 L314.90,201.65 L316.76,201.52 L318.62,201.43 L320.48,201.38 L322.34,201.37 L324.19,201.41 L326.04,201.50 L327.88,201.62 L329.71,201.79 L331.53,202.00 L333.33,202.25 L335.11,202.55 L336.88,202.88 L338.62,203.25 L340.34,203.67 L342.03,204.12 L343.70,204.61 L345.34,205.13 L346.95,205.70 L348.52,206.29 L350.06,206.92 L351.57,207.59 L353.04,208.28 L354.47,209.01 L355.86,209.77 L357.20,210.56 L358.51,211.37 L359.77,212.21 L360.98,213.08 L362.15,213.97 L363.26,214.89 L364.33,215.83 L365.35,216.79 L366.32,217.78 L367.23,218.78 L368.09,219.79 L368.90,220.83 L369.65,221.88 L370.34,222.95 L370.98,224.03 L371.56,225.12 L372.08,226.23 L372.55,227.34 L372.96,228.46 L373.31,229.59 L373.60,230.73 L373.83,231.86 L373.97,233.00 L374.07,234.20 L374.17,235.47 L378.16,235.17 L378.07,233.91 L377.98,232.60 L377.82,231.22 L377.56,229.85 L377.23,228.51 L376.83,227.19 L376.37,225.87 L375.84,224.57 L375.25,223.29 L374.59,222.02 L373.87,220.78 L373.09,219.56 L372.25,218.36 L371.35,217.18 L370.39,216.02 L369.38,214.90 L368.31,213.79 L367.19,212.72 L366.01,211.68 L364.79,210.66 L363.52,209.67 L362.20,208.72 L360.83,207.79 L359.42,206.90 L357.97,206.05 L356.47,205.22 L354.93,204.44 L353.36,203.69 L351.75,202.97 L350.10,202.29 L348.42,201.66 L346.70,201.06 L344.96,200.50 L343.19,199.98 L341.39,199.50 L339.57,199.07 L337.72,198.68 L335.85,198.33 L333.96,198.02 L332.06,197.76 L330.14,197.55 L328.21,197.38 L326.27,197.26 L324.32,197.18 L322.36,197.15 L320.40,197.17 L318.44,197.24 L316.48,197.35 L314.53,197.51 L312.58,197.72 L310.64,197.97 L308.71,198.27 L306.80,198.62 L304.90,199.02 L303.02,199.46 L301.16,199.94 L299.33,200.47 L297.53,201.05 L295.75,201.66 L294.01,202.32 L292.30,203.03 L290.62,203.77 L288.99,204.55 L287.40,205.37 L285.85,206.23 L284.34,207.12 L282.89,208.05 L281.48,209.01 L280.13,210.00 L278.83,211.02 L277.59,212.08 L276.40,213.16 L275.28,214.26 L274.21,215.40 L273.21,216.55 L272.27,217.73 L271.40,218.93 L270.59,220.14 L269.85,221.37 L269.18,222.62 L268.58,223.89 L268.05,225.16 L267.60,226.44 L267.21,227.74 L266.90,229.03 L266.66,230.34 L266.49,231.64 L266.40,232.95 L266.38,234.25 L266.43,235.55 L266.56,236.84 L266.75,238.13 L267.02,239.41 L267.36,240.67 L267.76,241.92 L268.23,243.16 L268.77,244.38 L269.37,245.59 L270.03,246.78 L270.75,247.95 L271.53,249.10 L272.36,250.24 L273.26,251.35 L274.21,252.44 L275.21,253.51 L276.26,254.56 L277.36,255.58 L278.51,256.58 L279.71,257.56 L280.95,258.51 L282.23,259.44 L283.56,260.34 L284.93,261.22 L286.34,262.06 L287.79,262.89 L289.27,263.68 L290.79,264.44 L292.35,265.18 L293.93,265.88 L295.55,266.55 L297.20,267.19 L298.87,267.80 L300.57,268.37 L302.30,268.91 L304.05,269.41 L305.81,269.88 L307.60,270.31 L309.41,270.70 L311.24,271.05 L313.07,271.36 L314.92,271.63 L316.79,271.87 L318.66,272.05 L320.53,272.20 L322.42,272.30 L324.30,272.36 L326.19,272.38 L328.07,272.35 L329.96,272.27 L331.83,272.15 L333.70,271.98 L335.56,271.77 L337.41,271.51 L339.24,271.20 L341.06,270.85 L342.86,270.45 L344.63,270.00 L346.39,269.51 L348.12,268.98 L349.81,268.39 L351.48,267.77 L353.12,267.10 L354.72,266.38 L356.29,265.63 L357.82,264.83 L359.30,263.99 L360.74,263.12 L362.14,262.20 L363.49,261.25 L364.79,260.26 L366.05,259.24 L367.24,258.18 L368.39,257.09 L369.47,255.97 L370.50,254.83 L371.47,253.65 L372.38,252.45 L373.23,251.22 L374.02,249.98 L374.74,248.71 L375.39,247.42 L375.98,246.11 L376.49,244.79 L376.94,243.46 L377.32,242.11 L377.63,240.76 L377.88,239.38 L378.02,238.00 L378.09,236.68 L378.16,235.41Z M374.16,235.32 a2.00,2.00 0 1,0 4.00,0 a2.00,2.00 0 1,0 -4.00,0 M374.16,235.32 a2.00,2.00 0 1,0 4.00,0 a2.00,2.00 0 1,0 -4.00,0"/></g>
<g fill="#1e1e1e" stroke="none"><path d="M268.81,230.83 L269.07,230.35 L269.32,229.87 L269.57,229.40 L269.83,228.93 L270.09,228.47 L270.37,228.02 L270.66,227.57 L270.96,227.12 L271.27,226.68 L271.60,226.24 L271.93,225.80 L272.27,225.37 L272.62,224.94 L272.97,224.51 L273.34,224.09 L273.72,223.67 L274.10,223.26 L274.49,222.85 L274.88,222.44 L275.29,222.04 L275.70,221.64 L276.12,221.24 L276.55,220.85 L276.98,220.46 L277.42,220.08 L277.86,219.70 L278.31,219.32 L278.77,218.95 L279.22,218.56 L279.67,218.18 L280.13,217.80 L280.59,217.42 L281.06,217.04 L281.54,216.67 L282.02,216.30 L282.51,215.93 L283.00,215.57 L283.49,215.20 L283.99,214.85 L284.49,214.49 L285.00,214.14 L285.52,213.79 L286.03,213.44 L286.56,213.09 L287.08,212.75 L287.61,212.41 L288.15,212.07 L288.69,211.74 L289.23,211.40 L289.78,211.07 L290.33,210.74 L290.89,210.42 L291.45,210.09 L292.01,209.77 L292.58,209.45 L293.16,209.13 L293.73,208.81 L294.31,208.50 L294.90,208.19 L295.49,207.88 L296.09,207.57 L296.69,207.27 L297.30,206.96 L297.91,206.66 L298.52,206.36 L299.14,206.07 L299.77,205.77 L300.40,205.48 L301.04,205.19 L301.67,204.89 L302.30,204.57 L302.94,204.26 L303.59,203.94 L304.24,203.63 L304.90,203.32 L305.56,203.02 L306.24,202.72 L306.91,202.42 L307.60,202.13 L308.30,201.85 L309.01,201.57 L309.73,201.29 L310.45,201.01 L311.16,200.73 L310.68,199.30 L309.95,199.51 L309.20,199.72 L308.46,199.92 L307.71,200.13 L306.97,200.35 L306.23,200.57 L305.51,200.81 L304.79,201.04 L304.08,201.28 L303.38,201.53 L302.68,201.78 L301.99,202.03 L301.30,202.28 L300.63,202.54 L299.96,202.83 L299.31,203.13 L298.67,203.43 L298.03,203.74 L297.39,204.05 L296.77,204.36 L296.14,204.67 L295.53,204.98 L294.92,205.30 L294.31,205.62 L293.71,205.94 L293.11,206.27 L292.51,206.59 L291.93,206.92 L291.34,207.25 L290.76,207.58 L290.19,207.92 L289.62,208.25 L289.05,208.59 L288.49,208.93 L287.93,209.28 L287.37,209.62 L286.82,209.97 L286.27,210.32 L285.73,210.67 L285.19,211.03 L284.66,211.39 L284.13,211.75 L283.60,212.12 L283.08,212.49 L282.56,212.86 L282.05,213.23 L281.54,213.61 L281.04,213.99 L280.54,214.37 L280.04,214.76 L279.55,215.15 L279.07,215.54 L278.59,215.94 L278.11,216.34 L277.65,216.75 L277.19,217.16 L276.75,217.59 L276.31,218.02 L275.88,218.46 L275.46,218.90 L275.05,219.34 L274.64,219.79 L274.24,220.24 L273.85,220.69 L273.46,221.15 L273.08,221.61 L272.72,222.08 L272.35,222.54 L272.00,223.01 L271.66,223.49 L271.32,223.96 L271.00,224.44 L270.68,224.93 L270.38,225.41 L270.08,225.90 L269.79,226.39 L269.52,226.89 L269.25,227.39 L269.00,227.89 L268.77,228.40 L268.55,228.90 L268.33,229.40 L268.12,229.90 L267.91,230.39Z M267.86,230.61 a0.50,0.50 0 1,0 1.00,0 a0.50,0.50 0 1,0 -1.00,0 M310.17,200.02 a0.75,0.75 0 1,0 1.50,0 a0.75,0.75 0 1,0 -1.50,0"/></g>

</g>
<g fill="none" stroke="#1e1e1e" stroke-linecap="round" stroke-linejoin="round">
<g transform="translate(0.00,440.50)" stroke-width="3.400"><path transform="translate(24.00,0.00)" d="M-8.6,-21.6 C-4,-21.7 2,-21.6 4.5,-19.5 C7,-17.5 6.5,-14 4,-12 C2,-10.5 -1,-9.8 -4,-9.5 C2,-10 7.5,-8.5 8.3,-5.5 C9,-2.5 6,-0.3 2,0 L-10.3,0.2 M-5.6,-21.5 L-5.3,0"/><path transform="translate(42.50,0.00)" d="M-3.6,-11 L-3.6,0 M-3.5,-6.5 C-2,-9.5 0,-11.3 4,-11.3"/><path transform="translate(56.50,0.00)" d="M0,-10 C3.5,-10 5.8,-7.8 5.8,-5 C5.8,-2 3.5,0 0,0 C-3.5,0 -5.8,-2 -5.8,-5 C-5.8,-8 -3.5,-10 0,-10Z"/><path transform="translate(76.40,0.00)" d="M-9.1,-10.8 L-5,-0.8 L-0.2,-8.2 L4.5,-0.8 L9.1,-11"/><path transform="translate(95.00,0.00)" d="M5,-11.5 C3,-12.5 -2,-12.5 -4,-11 C-6,-9 -3,-7 0,-6.3 C3,-5.5 5.5,-4.5 5.2,-2.5 C5,-0.5 0,0.5 -5,-1.5"/><path transform="translate(111.40,0.00)" d="M-4.5,-4.8 C-1,-5.2 2.5,-5.5 5.5,-6.3 C5.5,-9 3,-10.5 0,-10.5 C-3.5,-10.5 -5.5,-7.5 -5.5,-5 C-5.5,-1.5 -3,0.2 0.5,0.2 C2.5,0.2 4,-0.3 5.5,-1.2"/><path transform="translate(127.00,0.00)" d="M-3.6,-11 L-3.6,0 M-3.5,-6.5 C-2,-9.5 0,-11.3 4,-11.3"/><path transform="translate(150.20,0.00)" d="M-3.5,-14.5 C-1.5,-16 1,-17.5 3,-19.5 L2.6,0"/></g><g transform="translate(0.00,441.60)" stroke-width="3.400"><path transform="translate(440.00,0.00) scale(0.95)" d="M-8.6,-21.6 C-4,-21.7 2,-21.6 4.5,-19.5 C7,-17.5 6.5,-14 4,-12 C2,-10.5 -1,-9.8 -4,-9.5 C2,-10 7.5,-8.5 8.3,-5.5 C9,-2.5 6,-0.3 2,0 L-10.3,0.2 M-5.6,-21.5 L-5.3,0"/><path transform="translate(459.50,0.00)" d="M-3.6,-11 L-3.6,0 M-3.5,-6.5 C-2,-9.5 0,-11.3 4,-11.3"/><path transform="translate(474.50,0.00)" d="M0,-10 C3.5,-10 5.8,-7.8 5.8,-5 C5.8,-2 3.5,0 0,0 C-3.5,0 -5.8,-2 -5.8,-5 C-5.8,-8 -3.5,-10 0,-10Z"/><path transform="translate(493.50,0.00)" d="M-9.1,-10.8 L-5,-0.8 L-0.2,-8.2 L4.5,-0.8 L9.1,-11"/><path transform="translate(510.20,0.00)" d="M5,-11.5 C3,-12.5 -2,-12.5 -4,-11 C-6,-9 -3,-7 0,-6.3 C3,-5.5 5.5,-4.5 5.2,-2.5 C5,-0.5 0,0.5 -5,-1.5"/><path transform="translate(525.20,0.00)" d="M-4.5,-4.8 C-1,-5.2 2.5,-5.5 5.5,-6.3 C5.5,-9 3,-10.5 0,-10.5 C-3.5,-10.5 -5.5,-7.5 -5.5,-5 C-5.5,-1.5 -3,0.2 0.5,0.2 C2.5,0.2 4,-0.3 5.5,-1.2"/><path transform="translate(541.10,0.00)" d="M-3.6,-11 L-3.6,0 M-3.5,-6.5 C-2,-9.5 0,-11.3 4,-11.3"/><path transform="translate(571.30,0.00)" d="M-7,-12.5 C-6,-16 -2,-17.5 1.5,-16.8 C5,-16 6.5,-13 4.5,-10 C2,-6.5 -3,-3 -7.5,0 L8,-0.5"/></g><g transform="translate(0.00,242.80)" stroke-width="3.400"><path transform="translate(298.50,0.00)" d="M7,-17.8 C3,-18.5 -2,-18 -5,-16 C-8,-13.5 -6,-10.5 -1,-8.8 C4,-7 7.5,-5 6.8,-2.5 C6,0.5 0,0.8 -3,0 C-5,-0.5 -6.5,-1.5 -7.3,-2.8"/><path transform="translate(312.00,0.00)" d="M-0.5,-9 L0.3,0 M-1.2,-15.3 L-1,-15.1"/><path transform="translate(323.00,0.00)" d="M-1.8,-17.3 L-0.8,0 M-5.4,-10.5 L5.5,-12.5"/><path transform="translate(340.20,0.00)" d="M-4.5,-4.8 C-1,-5.2 2.5,-5.5 5.5,-6.3 C5.5,-9 3,-10.5 0,-10.5 C-3.5,-10.5 -5.5,-7.5 -5.5,-5 C-5.5,-1.5 -3,0.2 0.5,0.2 C2.5,0.2 4,-0.3 5.5,-1.2"/></g><g transform="translate(0.00,35.50) scale(0.963)" stroke-width="3.427"><path transform="translate(312.56,0.00)" d="M-4.8,-17.1 L5.3,-18 M0.1,-17.5 L-1.2,0 M-5.6,0.5 L4.7,-0.9"/><path transform="translate(333.75,0.00)" d="M-9.1,-18.7 L-8.3,0 M-9.1,-18.7 C-1,-17.5 8,-14 9,-9 C9.5,-4 3,-0.5 -8.3,0"/><path transform="translate(359.29,0.00)" d="M-8,-18.2 L-7.5,0 M-8,-18.2 C-2,-19 5,-18.5 6.8,-14.5 C8,-10.5 2,-7.5 -6.5,-7"/></g><g transform="translate(0.00,290.80) scale(0.857)" stroke-width="3.151"><path transform="translate(629.99,0.00)" d="M-6.8,-16.6 C-8,-11.5 -8.6,-6 -6.5,-2.6 C-4.8,-0.2 -1.5,0.4 1.5,-0.5 C5,-1.8 7,-5.5 7.6,-9 C8.1,-12.5 8.1,-14.5 8,-16.8"/><path transform="translate(649.01,0.00)" d="M5,-11.5 C3,-12.5 -2,-12.5 -4,-11 C-6,-9 -3,-7 0,-6.3 C3,-5.5 5.5,-4.5 5.2,-2.5 C5,-0.5 0,0.5 -5,-1.5"/><path transform="translate(664.88,0.00)" d="M-4.5,-4.8 C-1,-5.2 2.5,-5.5 5.5,-6.3 C5.5,-9 3,-10.5 0,-10.5 C-3.5,-10.5 -5.5,-7.5 -5.5,-5 C-5.5,-1.5 -3,0.2 0.5,0.2 C2.5,0.2 4,-0.3 5.5,-1.2"/><path transform="translate(681.21,0.00)" d="M-3.6,-11 L-3.6,0 M-3.5,-6.5 C-2,-9.5 0,-11.3 4,-11.3"/><path transform="translate(705.60,0.00)" d="M-4.8,-17.1 L5.3,-18 M0.1,-17.5 L-1.2,0 M-5.6,0.5 L4.7,-0.9"/><path transform="translate(726.02,0.00)" d="M-9.1,-18.7 L-8.3,0 M-9.1,-18.7 C-1,-17.5 8,-14 9,-9 C9.5,-4 3,-0.5 -8.3,0"/></g><g transform="translate(478.30,119.90) rotate(-26.5) scale(0.88)" stroke-width="3.182"><path transform="translate(0.00,0.00)" d="M-6.8,-16.6 C-8,-11.5 -8.6,-6 -6.5,-2.6 C-4.8,-0.2 -1.5,0.4 1.5,-0.5 C5,-1.8 7,-5.5 7.6,-9 C8.1,-12.5 8.1,-14.5 8,-16.8"/><path transform="translate(16.93,0.00)" d="M5,-11.5 C3,-12.5 -2,-12.5 -4,-11 C-6,-9 -3,-7 0,-6.3 C3,-5.5 5.5,-4.5 5.2,-2.5 C5,-0.5 0,0.5 -5,-1.5"/><path transform="translate(32.73,0.00)" d="M-4.5,-4.8 C-1,-5.2 2.5,-5.5 5.5,-6.3 C5.5,-9 3,-10.5 0,-10.5 C-3.5,-10.5 -5.5,-7.5 -5.5,-5 C-5.5,-1.5 -3,0.2 0.5,0.2 C2.5,0.2 4,-0.3 5.5,-1.2"/><path transform="translate(46.36,0.00)" d="M-3.6,-11 L-3.6,0 M-3.5,-6.5 C-2,-9.5 0,-11.3 4,-11.3"/><path transform="translate(75.11,0.00)" d="M-4.8,-17.1 L5.3,-18 M0.1,-17.5 L-1.2,0 M-5.6,0.5 L4.7,-0.9"/><path transform="translate(94.43,0.00)" d="M-9.1,-18.7 L-8.3,0 M-9.1,-18.7 C-1,-17.5 8,-14 9,-9 C9.5,-4 3,-0.5 -8.3,0"/></g><g transform="translate(491.60,148.60) rotate(-26.5) scale(0.9)" stroke-width="3.111"><path transform="translate(0.00,0.00)" d="M-5,-7 L5,-7.5 M-0.2,-12 L0.3,-2.5"/><path transform="translate(27.22,0.00)" d="M-7,-18 L0,0 L7,-19"/><path transform="translate(42.78,0.00)" d="M4.5,-8.5 C3,-10.5 -1,-10.8 -3.5,-8.5 C-5.5,-6.5 -5.5,-2 -2.5,-0.3 C0.5,1 3.5,-2 4.5,-9.5 L5,0"/><path transform="translate(54.78,0.00)" d="M-0.5,-23 L0.5,0"/><path transform="translate(62.44,0.00)" d="M-0.5,-9 L0.3,0 M-1.2,-15.3 L-1,-15.1"/><path transform="translate(73.11,0.00)" d="M3.5,-8.5 C2,-10.5 -2,-10.8 -4.5,-8.5 C-6.5,-6.5 -6.5,-2 -3.5,-0.3 C-0.5,1 2.5,-2 3.5,-9.5 M3.2,-23 L4.5,0"/><path transform="translate(89.44,0.00)" d="M4.5,-8.5 C3,-10.5 -1,-10.8 -3.5,-8.5 C-5.5,-6.5 -5.5,-2 -2.5,-0.3 C0.5,1 3.5,-2 4.5,-9.5 L5,0"/><path transform="translate(105.00,0.00)" d="M-1.8,-17.3 L-0.8,0 M-5.4,-10.5 L5.5,-12.5"/><path transform="translate(115.78,0.00)" d="M-0.5,-9 L0.3,0 M-1.2,-15.3 L-1,-15.1"/><path transform="translate(128.11,0.00)" d="M0,-10 C3.5,-10 5.8,-7.8 5.8,-5 C5.8,-2 3.5,0 0,0 C-3.5,0 -5.8,-2 -5.8,-5 C-5.8,-8 -3.5,-10 0,-10Z"/><path transform="translate(145.00,0.00)" d="M-4.5,-10 L-4.5,0 M-4.5,-6.5 C-3,-9.5 0,-11 2.5,-10 C4.5,-9 4.8,-6 4.8,0"/></g><g transform="translate(95.30,303.70) rotate(-37) scale(0.92)" stroke-width="2.935"><path transform="translate(-1.09,0.33)" d="M3.5,-16 L-5,-13.5 M-5,-13.5 L-4.4,0 L5.5,0.6 M-4.7,-7.5 L3,-9"/><path transform="translate(19.02,0.00)" d="M-8,-10 L-8,0 M-8,-7 C-6.5,-9.5 -3.5,-11 -1.5,-9 L-1,0 M-1,-7 C0.5,-9.5 3.5,-11 5.5,-9 L6,0"/><path transform="translate(35.33,0.00)" d="M4.5,-8.5 C3,-10.5 -1,-10.8 -3.5,-8.5 C-5.5,-6.5 -5.5,-2 -2.5,-0.3 C0.5,1 3.5,-2 4.5,-9.5 L5,0"/><path transform="translate(47.28,0.00)" d="M-0.5,-9 L0.3,0 M-1.2,-15.3 L-1,-15.1"/><path transform="translate(54.13,0.00)" d="M-0.5,-23 L0.5,0"/></g><g transform="translate(127.90,382.30) rotate(-45) scale(1.08)" stroke-width="2.685"><path transform="translate(4.07,2.31)" d="M-8,-18.2 L-7.5,0 M-8,-18.2 C-2,-19 5,-18.5 6.8,-14.5 C8,-10.5 2,-7.5 -6.5,-7"/><path transform="translate(21.76,0.00) scale(1.1)" d="M-4.5,-10 C-5,-5 -4,0 -0.5,0 C3,0 4.3,-4 4.5,-10 L4.8,0"/><path transform="translate(34.72,0.00)" d="M-4.5,-23 L-4,0 M-4,-5 C-3.5,-8.5 -1,-10.5 1.5,-10.5 C4,-10.5 5.5,-8 5.3,-5 C5,-2 2.5,0 -0.5,0 C-2,0 -3.3,-0.5 -4,-1.5"/><path transform="translate(47.69,0.00)" d="M-0.5,-23 L0.5,0"/><path transform="translate(53.52,0.00)" d="M-0.5,-9 L0.3,0 M-1.2,-15.3 L-1,-15.1"/><path transform="translate(63.33,0.00)" d="M4.5,-8.5 C3,-10.5 0,-10.8 -2,-10 C-4.5,-9 -5.5,-6.5 -5.2,-4 C-5,-1 -2.5,0.2 0.5,0.2 C2.5,0.2 4,-0.5 5,-1.5"/><path transform="translate(91.85,0.00)" d="M-6,-17 L-5.6,0 M6.8,-17.8 C2,-14 -2,-11.2 -5.1,-9.4 C-1,-6 2,-3 4.6,0.1"/><path transform="translate(102.59,0.00)" d="M-4.5,-4.8 C-1,-5.2 2.5,-5.5 5.5,-6.3 C5.5,-9 3,-10.5 0,-10.5 C-3.5,-10.5 -5.5,-7.5 -5.5,-5 C-5.5,-1.5 -3,0.2 0.5,0.2 C2.5,0.2 4,-0.3 5.5,-1.2"/><path transform="translate(118.70,0.00)" d="M-5.5,-12.5 C-5.2,-7.5 -3.5,-4.8 -0.5,-4.8 C2.2,-4.8 4,-7.5 4.8,-13.5 C4,-7 2,1 -0.5,7.5"/></g><g transform="translate(225.80,403.30) rotate(-45.5) scale(0.857)" stroke-width="3.151"><path transform="translate(0.58,2.92)" d="M-6.8,-16.6 C-8,-11.5 -8.6,-6 -6.5,-2.6 C-4.8,-0.2 -1.5,0.4 1.5,-0.5 C5,-1.8 7,-5.5 7.6,-9 C8.1,-12.5 8.1,-14.5 8,-16.8"/><path transform="translate(18.67,2.10)" d="M5,-11.5 C3,-12.5 -2,-12.5 -4,-11 C-6,-9 -3,-7 0,-6.3 C3,-5.5 5.5,-4.5 5.2,-2.5 C5,-0.5 0,0.5 -5,-1.5"/><path transform="translate(34.77,1.40)" d="M-4.5,-4.8 C-1,-5.2 2.5,-5.5 5.5,-6.3 C5.5,-9 3,-10.5 0,-10.5 C-3.5,-10.5 -5.5,-7.5 -5.5,-5 C-5.5,-1.5 -3,0.2 0.5,0.2 C2.5,0.2 4,-0.3 5.5,-1.2"/><path transform="translate(48.07,0.70)" d="M-3.6,-11 L-3.6,0 M-3.5,-6.5 C-2,-9.5 0,-11.3 4,-11.3"/><path transform="translate(74.21,0.00)" d="M-4.8,-17.1 L5.3,-18 M0.1,-17.5 L-1.2,0 M-5.6,0.5 L4.7,-0.9"/><path transform="translate(93.35,0.00)" d="M-9.1,-18.7 L-8.3,0 M-9.1,-18.7 C-1,-17.5 8,-14 9,-9 C9.5,-4 3,-0.5 -8.3,0"/></g>
</g>
</svg>
</body></html>
